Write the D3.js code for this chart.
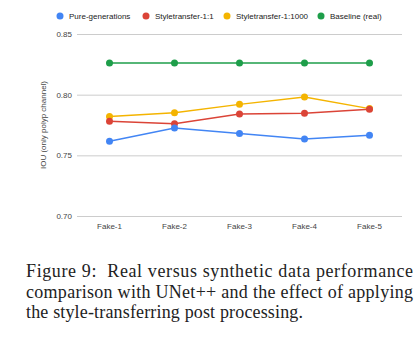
<!DOCTYPE html>
<html>
<head>
<meta charset="utf-8">
<title>IOU comparison</title>
<script src="https://cdn.jsdelivr.net/npm/d3@7"></script>
<style>
  body { margin:0; background:#fff; }
  .tick text { font-family:"Liberation Sans", Arial, sans-serif; font-size:8px; fill:#444; }
  .caption { font-family:"Liberation Serif", "DejaVu Serif", serif; font-size:18px; fill:#222; }
</style>
</head>
<body>
<script>
var width = 419, height = 341;

// chart data
var fakes = ["Fake-1", "Fake-2", "Fake-3", "Fake-4", "Fake-5"];
var seriesNames = ["Pure-generations", "Styletransfer-1:1", "Styletransfer-1:1000", "Baseline (real)"];
var pureGen = [0.7616, 0.7726, 0.768, 0.7635, 0.7665];
var style11 = [0.778, 0.776, 0.784, 0.7847, 0.788];
var style11000 = [0.782, 0.785, 0.792, 0.798, 0.7885];
var baseline = [0.826, 0.826, 0.826, 0.826, 0.826];
var yTicks = [0.70, 0.75, 0.80, 0.85];
var colors = ["#4285f4", "#db4437", "#f4b400", "#1e9e4a"];
var captionLines = [
  "Figure 9:  Real versus synthetic data performance",
  "comparison with UNet++ and the effect of applying",
  "the style-transferring post processing."
];

var allSeries = [pureGen, style11, style11000, baseline];

var padding = {left:77, right:17, top:34, bottom:125};

var svg = d3.select("body").append("svg")
  .attr("width", width)
  .attr("height", height);

var x = d3.scaleBand()
  .domain(fakes)
  .range([padding.left, width - padding.right]);

var y = d3.scaleLinear()
  .domain([0.70, 0.85])
  .range([height - padding.bottom, padding.top]);

// horizontal gridlines + tick labels
var yAxis = d3.axisLeft(y)
  .tickValues(yTicks)
  .tickFormat(d3.format(".2f"))
  .tickSize(-(width - padding.left - padding.right))
  .tickPadding(5);

var gy = svg.append("g")
  .attr("transform", "translate(" + padding.left + ",0)")
  .call(yAxis);
gy.select(".domain").remove();
gy.selectAll(".tick line").attr("stroke", "#cccccc").attr("stroke-width", 1);

var xAxis = d3.axisBottom(x).tickSize(0).tickPadding(7);
var gx = svg.append("g")
  .attr("transform", "translate(0," + (height - padding.bottom) + ")")
  .call(xAxis);
gx.select(".domain").remove();

// y axis title
svg.append("text")
  .attr("transform", "translate(46," + ((padding.top + height - padding.bottom) / 2) + ") rotate(-90)")
  .attr("text-anchor", "middle")
  .style("font-family", "Liberation Sans, Arial, sans-serif")
  .style("font-size", "8px")
  .attr("fill", "#444")
  .text("IOU (only polyp channel)");

var line = d3.line()
  .x(function(d, i) { return x(fakes[i]) + x.bandwidth() / 2; })
  .y(function(d) { return y(d); });

// draw baseline first, then the others on top
[3, 2, 1, 0].forEach(function(k) {
  svg.append("path")
    .attr("d", line(allSeries[k]))
    .attr("fill", "none")
    .attr("stroke", colors[k])
    .attr("stroke-width", 1.5);
  svg.selectAll(".pt" + k)
    .data(allSeries[k])
    .enter()
    .append("circle")
    .attr("class", "pt" + k)
    .attr("cx", function(d, i) { return x(fakes[i]) + x.bandwidth() / 2; })
    .attr("cy", function(d) { return y(d); })
    .attr("r", 3.5)
    .attr("fill", colors[k]);
});

// legend
var legendX = [60, 146, 227, 321];
var legend = svg.selectAll(".legend")
  .data(seriesNames)
  .enter()
  .append("g")
  .attr("class", "legend")
  .attr("transform", function(d, i) { return "translate(" + legendX[i] + ",16)"; });
legend.append("circle")
  .attr("r", 3.5)
  .attr("fill", function(d, i) { return colors[i]; });
legend.append("text")
  .attr("x", 9)
  .attr("dy", "0.35em")
  .style("font-family", "Liberation Sans, Arial, sans-serif")
  .style("font-size", "8px")
  .attr("fill", "#222")
  .text(function(d) { return d; });

// figure caption
var capWidths = [387, 387, 277];
svg.selectAll(".caption")
  .data(captionLines)
  .enter()
  .append("text")
  .attr("class", "caption")
  .attr("x", 26)
  .attr("y", function(d, i) { return 277 + i * 20.7; })
  .attr("textLength", function(d, i) { return capWidths[i]; })
  .attr("lengthAdjust", "spacing")
  .attr("xml:space", "preserve")
  .text(function(d) { return d; });
</script>
</body>
</html>
